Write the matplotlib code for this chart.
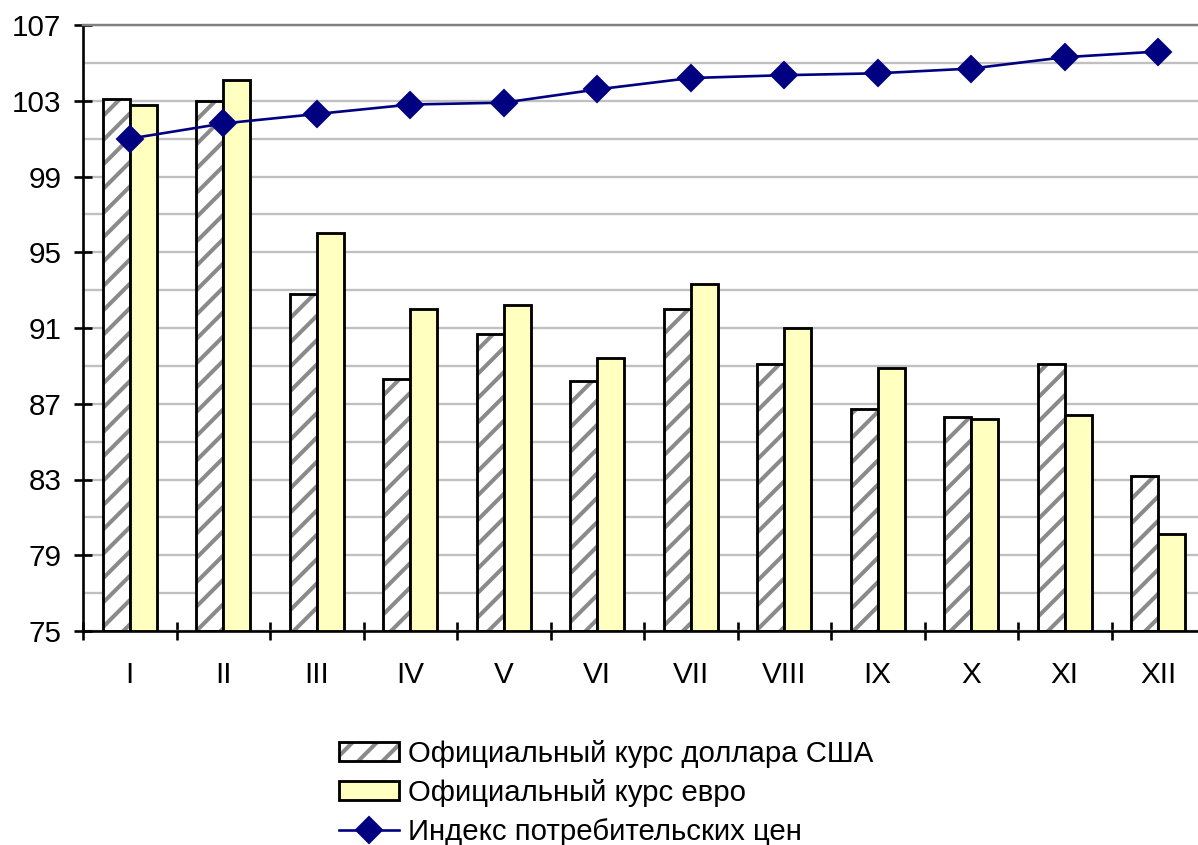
import matplotlib.pyplot as plt
import numpy as np
from matplotlib.patches import Patch
from matplotlib.lines import Line2D

# dpi 146 so that the '//' hatch spacing matches the reference (~12 px)
DPI = 146
plt.rcParams['font.family'] = ['Liberation Sans', 'DejaVu Sans']
plt.rcParams['hatch.linewidth'] = 2.0

months = ['I', 'II', 'III', 'IV', 'V', 'VI', 'VII', 'VIII', 'IX', 'X', 'XI', 'XII']
usd = [103.1, 103.0, 92.8, 88.3, 90.7, 88.2, 92.0, 89.1, 86.7, 86.3, 89.1, 83.2]
eur = [102.8, 104.1, 96.0, 92.0, 92.2, 89.4, 93.3, 91.0, 88.9, 86.2, 86.4, 80.1]
cpi = [101.0, 101.8, 102.3, 102.8, 102.9, 103.6, 104.2, 104.35, 104.45, 104.7, 105.3, 105.6]

lbl_usd = 'Официальный курс доллара США'
lbl_eur = 'Официальный курс евро'
lbl_cpi = 'Индекс потребительских цен'

fig = plt.figure(figsize=(1198 / DPI, 845 / DPI), dpi=DPI)
ax = fig.add_axes([83 / 1198, 214 / 845, 1122 / 1198, 606 / 845])

x = np.arange(len(months))
w = 0.29
base = 75
hatch_col = '#8a8a8a'
eur_col = '#ffffc0'
cpi_col = '#000080'

# hatched dollar bars: stripes first, black outline on top
ax.bar(x - w / 2, np.array(usd) - base, w, bottom=base, color='white',
       edgecolor=hatch_col, hatch='//', linewidth=0, zorder=2)
ax.bar(x - w / 2, np.array(usd) - base, w, bottom=base, fill=False,
       edgecolor='black', linewidth=1.4, zorder=3)
ax.bar(x + w / 2, np.array(eur) - base, w, bottom=base, color=eur_col,
       edgecolor='black', linewidth=1.4, zorder=3)
ax.plot(x, cpi, color=cpi_col, linewidth=1.3, marker='D', markersize=9,
        zorder=4)

ax.set_xlim(-0.5, len(months) - 0.5)
ax.set_ylim(75, 107)
ax.set_yticks(np.arange(75, 108, 4))
ax.set_yticks(np.arange(75, 108, 2), minor=True)
ax.grid(axis='y', which='both', color='#c0c0c0', linewidth=1.15, zorder=0)
ax.set_axisbelow(True)

ax.set_xticks(x)
ax.set_xticklabels(months)
ax.set_xticks(np.arange(-0.5, len(months), 1), minor=True)
ax.tick_params(axis='x', which='major', length=0, pad=15, labelsize=14.6)
ax.tick_params(axis='x', which='minor', direction='inout', length=8.4, width=1.3)
ax.tick_params(axis='y', which='major', direction='inout', length=8.4, width=1.3,
               labelsize=14.6, pad=6.5)
ax.tick_params(axis='y', which='minor', length=0)

for s in ['left', 'bottom']:
    ax.spines[s].set_linewidth(1.3)
ax.spines['top'].set_color('#808080')
ax.spines['top'].set_linewidth(1.2)
ax.spines['right'].set_visible(False)

handles = [
    (Patch(facecolor='white', edgecolor=hatch_col, hatch='//', linewidth=0),
     Patch(fill=False, edgecolor='black', linewidth=1.4)),
    Patch(facecolor=eur_col, edgecolor='black', linewidth=1.4),
    Line2D([], [], color=cpi_col, linewidth=1.3, marker='D', markersize=9),
]
fig.legend(handles, [lbl_usd, lbl_eur, lbl_cpi], loc='upper left',
           bbox_to_anchor=(339 / 1198, 1 - 740 / 845), frameon=False,
           fontsize=14.5, handlelength=2.05, handleheight=0.6, handletextpad=0.28,
           labelspacing=0.38, borderpad=0, borderaxespad=0)

fig.savefig('out.png', dpi=DPI)
